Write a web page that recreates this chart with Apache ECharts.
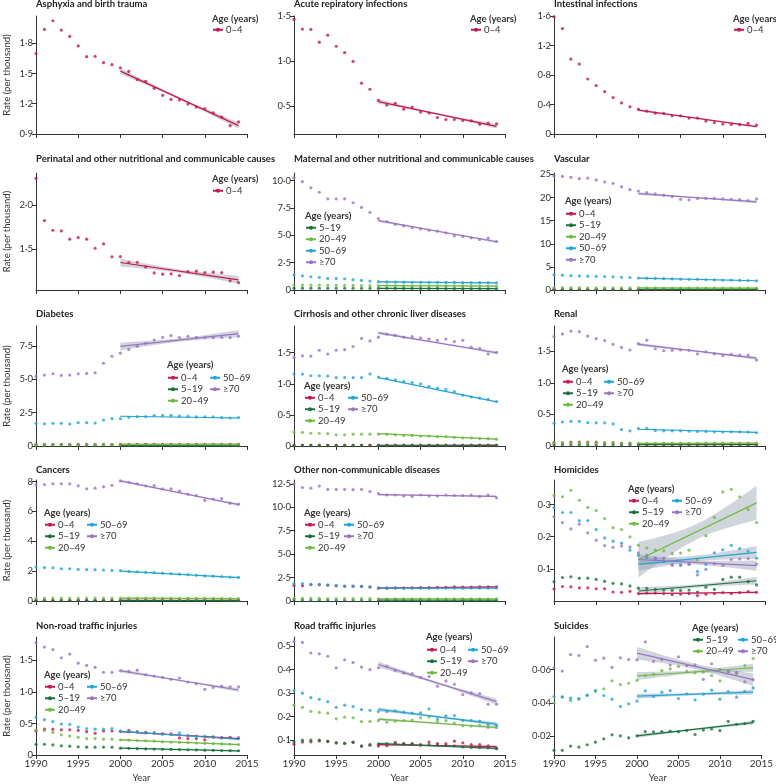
<!DOCTYPE html>
<html>
<head>
<meta charset="utf-8">
<script src="https://cdn.jsdelivr.net/npm/echarts@6.0.0/dist/echarts.min.js"></script>
<style>
html, body { margin: 0; padding: 0; background: #fff; }
#main { width: 776px; height: 784px; }
</style>
</head>
<body>
<div id="main"></div>
<script>
// ---- data ----
var years = [1990, 1991, 1992, 1993, 1994, 1995, 1996, 1997, 1998, 1999, 2000, 2001, 2002,
    2003, 2004, 2005, 2006, 2007, 2008, 2009, 2010, 2011, 2012, 2013, 2014];
var fitYears = [2000, 2014];
var ageGroups = ['0–4', '5–19', '20–49', '50–69', '≥70'];

// Asphyxia and birth trauma
var asphyxia04 = [1.697, 1.937, 2.023, 1.93, 1.867, 1.773, 1.667, 1.67, 1.607, 1.587, 1.557, 1.52, 1.44,
    1.423, 1.353, 1.283, 1.243, 1.237, 1.197, 1.167, 1.153, 1.11, 1.067, 0.983, 1.02];
var asphyxiaFit04 = [1.523, 0.983];
var asphyxiaBand04 = [0.03, 0.012, 0.03];

// Acute repiratory infections
var acute04 = [1.463, 1.355, 1.351, 1.209, 1.287, 1.164, 1.093, 0.996, 0.754, 0.687, 0.563, 0.511, 0.53,
    0.466, 0.489, 0.433, 0.422, 0.373, 0.351, 0.351, 0.34, 0.336, 0.299, 0.31, 0.302];
var acuteFit04 = [0.55, 0.275];
var acuteBand04 = [0.025, 0.01, 0.025];

// Intestinal infections
var intestinal04 = [1.59, 1.43, 1.016, 0.948, 0.746, 0.656, 0.575, 0.494, 0.422, 0.369, 0.337, 0.31, 0.283,
    0.279, 0.247, 0.247, 0.216, 0.216, 0.175, 0.153, 0.135, 0.13, 0.126, 0.144, 0.121];
var intestinalFit04 = [0.325, 0.1];
var intestinalBand04 = [0.015, 0.006, 0.015];

// Perinatal and other nutritional and communicable causes
var perinatal04 = [2.30, 1.823, 1.714, 1.707, 1.613, 1.632, 1.613, 1.511, 1.56, 1.414, 1.417, 1.35, 1.353,
    1.30, 1.233, 1.218, 1.222, 1.203, 1.248, 1.252, 1.237, 1.241, 1.237, 1.143, 1.124];
var perinatalFit04 = [1.35, 1.155];
var perinatalBand04 = [0.045, 0.02, 0.045];

// Maternal and other nutritional and communicable causes
var maternal519 = [0.17, 0.17, 0.17, 0.16, 0.16, 0.16, 0.16, 0.16, 0.15, 0.15, 0.15, 0.15, 0.15,
    0.14, 0.14, 0.14, 0.14, 0.14, 0.13, 0.13, 0.13, 0.13, 0.13, 0.12, 0.12];
var maternal2049 = [0.45, 0.45, 0.44, 0.44, 0.43, 0.43, 0.42, 0.42, 0.41, 0.41, 0.40, 0.40, 0.40,
    0.39, 0.39, 0.39, 0.38, 0.38, 0.38, 0.37, 0.37, 0.37, 0.36, 0.36, 0.36];
var maternal5069 = [1.39, 1.3, 1.21, 1.15, 1.06, 1.06, 1.03, 0.94, 0.88, 0.82, 0.76, 0.74, 0.73,
    0.72, 0.71, 0.71, 0.70, 0.70, 0.69, 0.69, 0.68, 0.68, 0.67, 0.67, 0.66];
var maternal70 = [10.27, 9.91, 9.34, 8.94, 8.34, 8.34, 8.34, 7.98, 7.55, 7.1, 6.53, 6.25, 6.01,
    5.86, 5.71, 5.59, 5.47, 5.38, 5.23, 4.95, 4.89, 4.77, 4.62, 4.74, 4.44];
var maternalFit519 = [0.15, 0.12];
var maternalFit2049 = [0.40, 0.36];
var maternalFit5069 = [0.75, 0.66];
var maternalFit70 = [6.34, 4.41];
var maternalBandSmall = [0.06, 0.03, 0.06];
var maternalBand70 = [0.12, 0.05, 0.12];

// Vascular
var vascular04 = [0.12, 0.12, 0.11, 0.11, 0.1, 0.1, 0.1, 0.09, 0.09, 0.09, 0.08, 0.08, 0.08,
    0.07, 0.07, 0.07, 0.07, 0.06, 0.06, 0.06, 0.06, 0.06, 0.05, 0.05, 0.05];
var vascular519 = [0.17, 0.17, 0.16, 0.16, 0.16, 0.15, 0.15, 0.15, 0.15, 0.14, 0.14, 0.14, 0.14,
    0.14, 0.13, 0.13, 0.13, 0.13, 0.13, 0.12, 0.12, 0.12, 0.12, 0.12, 0.12];
var vascular2049 = [0.52, 0.51, 0.5, 0.5, 0.49, 0.48, 0.47, 0.47, 0.46, 0.45, 0.45, 0.44, 0.44,
    0.43, 0.43, 0.42, 0.42, 0.41, 0.41, 0.41, 0.4, 0.4, 0.4, 0.39, 0.39];
var vascular5069 = [3.3, 3.2, 3.1, 3.05, 3.0, 2.95, 2.9, 2.85, 2.75, 2.7, 2.6, 2.55, 2.5,
    2.45, 2.4, 2.35, 2.3, 2.3, 2.25, 2.2, 2.15, 2.15, 2.1, 2.05, 2.0];
var vascular70 = [24.64, 24.57, 24.36, 24.07, 24.2, 23.8, 23.35, 23.07, 22.3, 21.7, 21.4, 21.06, 20.77,
    20.5, 20.2, 19.6, 19.5, 19.8, 19.8, 19.8, 19.7, 19.6, 19.56, 19.34, 19.7];
var vascularFit04 = [0.08, 0.05];
var vascularFit519 = [0.14, 0.12];
var vascularFit2049 = [0.45, 0.39];
var vascularFit5069 = [2.58, 2.0];
var vascularFit70 = [20.85, 19.05];
var vascularBandSmall = [0.1, 0.05, 0.1];
var vascularBand70 = [0.3, 0.12, 0.3];

// Diabetes
var diabetes04 = [0.13, 0.13, 0.13, 0.13, 0.13, 0.13, 0.13, 0.13, 0.13, 0.13, 0.12, 0.12, 0.12,
    0.12, 0.12, 0.12, 0.12, 0.12, 0.12, 0.12, 0.12, 0.12, 0.12, 0.12, 0.12];
var diabetes519 = [0.03, 0.03, 0.03, 0.03, 0.03, 0.03, 0.03, 0.03, 0.03, 0.03, 0.03, 0.03, 0.03,
    0.03, 0.03, 0.02, 0.02, 0.02, 0.02, 0.02, 0.02, 0.02, 0.02, 0.02, 0.02];
var diabetes2049 = [0.09, 0.09, 0.09, 0.09, 0.09, 0.09, 0.1, 0.1, 0.1, 0.1, 0.1, 0.1, 0.11,
    0.11, 0.11, 0.11, 0.11, 0.11, 0.11, 0.12, 0.12, 0.12, 0.12, 0.12, 0.12];
var diabetes5069 = [1.7, 1.67, 1.7, 1.7, 1.65, 1.75, 1.75, 1.72, 1.95, 2.05, 2.05, 2.15, 2.2,
    2.2, 2.28, 2.3, 2.3, 2.25, 2.23, 2.18, 2.18, 2.18, 2.13, 2.1, 2.13];
var diabetes70 = [5.22, 5.32, 5.42, 5.29, 5.32, 5.42, 5.44, 5.49, 6.2, 6.73, 6.96, 7.24, 7.49,
    7.7, 7.95, 8.15, 8.28, 8.13, 8.23, 8.13, 8.13, 8.13, 8.15, 8.13, 8.23];
var diabetesFit04 = [0.12, 0.12];
var diabetesFit519 = [0.03, 0.02];
var diabetesFit2049 = [0.1, 0.12];
var diabetesFit5069 = [2.23, 2.1];
var diabetesFit70 = [7.47, 8.43];
var diabetesBandSmall = [0.04, 0.02, 0.04];
var diabetesBand70 = [0.3, 0.13, 0.27];

// Cirrhosis and other chronic liver diseases
var cirrhosis04 = [0.015, 0.015, 0.015, 0.015, 0.015, 0.015, 0.014, 0.014, 0.014, 0.014, 0.013, 0.013, 0.013,
    0.013, 0.013, 0.013, 0.013, 0.013, 0.014, 0.014, 0.014, 0.014, 0.015, 0.015, 0.015];
var cirrhosis519 = [0.006, 0.006, 0.006, 0.006, 0.006, 0.006, 0.006, 0.006, 0.006, 0.006, 0.006, 0.006, 0.006,
    0.006, 0.005, 0.005, 0.005, 0.005, 0.005, 0.005, 0.005, 0.005, 0.005, 0.005, 0.005];
var cirrhosis2049 = [0.22, 0.22, 0.205, 0.205, 0.2, 0.18, 0.18, 0.19, 0.19, 0.19, 0.19, 0.19, 0.18,
    0.17, 0.17, 0.16, 0.16, 0.15, 0.15, 0.14, 0.13, 0.13, 0.12, 0.12, 0.11];
var cirrhosis5069 = [1.156, 1.156, 1.13, 1.13, 1.125, 1.10, 1.10, 1.10, 1.10, 1.16, 1.11, 1.09, 1.065,
    1.04, 1.02, 1.0, 0.96, 0.93, 0.91, 0.876, 0.817, 0.79, 0.77, 0.75, 0.715];
var cirrhosis70 = [1.425, 1.45, 1.446, 1.54, 1.48, 1.54, 1.55, 1.6, 1.73, 1.69, 1.75, 1.80, 1.78,
    1.75, 1.76, 1.74, 1.72, 1.70, 1.72, 1.68, 1.70, 1.59, 1.57, 1.48, 1.505];
var cirrhosisFit04 = [0.012, 0.015];
var cirrhosisFit519 = [0.006, 0.005];
var cirrhosisFit2049 = [0.2, 0.11];
var cirrhosisFit5069 = [1.1, 0.71];
var cirrhosisFit70 = [1.82, 1.5];
var cirrhosisBandSmall = [0.008, 0.004, 0.008];
var cirrhosisBand70 = [0.025, 0.012, 0.025];

// Renal
var renal04 = [0.05, 0.05, 0.06, 0.06, 0.06, 0.06, 0.05, 0.05, 0.04, 0.04, 0.03, 0.03, 0.03,
    0.03, 0.03, 0.03, 0.03, 0.03, 0.03, 0.03, 0.03, 0.03, 0.03, 0.03, 0.03];
var renal519 = [0.02, 0.02, 0.02, 0.02, 0.02, 0.02, 0.02, 0.02, 0.02, 0.02, 0.02, 0.02, 0.02,
    0.02, 0.02, 0.02, 0.02, 0.02, 0.02, 0.02, 0.02, 0.02, 0.02, 0.02, 0.02];
var renal2049 = [0.05, 0.05, 0.05, 0.05, 0.05, 0.05, 0.05, 0.05, 0.045, 0.045, 0.04, 0.04, 0.04,
    0.04, 0.04, 0.04, 0.04, 0.04, 0.045, 0.045, 0.045, 0.045, 0.045, 0.045, 0.045];
var renal5069 = [0.36, 0.38, 0.39, 0.39, 0.37, 0.365, 0.365, 0.35, 0.26, 0.24, 0.275, 0.28, 0.245,
    0.24, 0.24, 0.24, 0.235, 0.23, 0.23, 0.225, 0.22, 0.225, 0.225, 0.22, 0.21];
var renal70 = [1.733, 1.775, 1.82, 1.81, 1.74, 1.70, 1.67, 1.61, 1.56, 1.52, 1.62, 1.675, 1.54,
    1.51, 1.515, 1.52, 1.515, 1.46, 1.49, 1.46, 1.43, 1.45, 1.44, 1.44, 1.36];
var renalFit04 = [0.03, 0.025];
var renalFit519 = [0.02, 0.02];
var renalFit2049 = [0.04, 0.045];
var renalFit5069 = [0.265, 0.215];
var renalFit70 = [1.61, 1.39];
var renalBandSmall = [0.008, 0.004, 0.008];
var renalBand70 = [0.025, 0.012, 0.025];

// Cancers
var cancers04 = [0.05, 0.05, 0.05, 0.05, 0.05, 0.05, 0.05, 0.05, 0.05, 0.05, 0.05, 0.05, 0.05,
    0.05, 0.05, 0.04, 0.04, 0.04, 0.04, 0.04, 0.04, 0.04, 0.04, 0.04, 0.04];
var cancers519 = [0.04, 0.04, 0.04, 0.04, 0.04, 0.04, 0.04, 0.04, 0.04, 0.04, 0.035, 0.035, 0.035,
    0.035, 0.035, 0.03, 0.03, 0.03, 0.03, 0.03, 0.03, 0.03, 0.03, 0.03, 0.03];
var cancers2049 = [0.2, 0.2, 0.2, 0.2, 0.2, 0.2, 0.2, 0.2, 0.2, 0.2, 0.19, 0.19, 0.19,
    0.19, 0.19, 0.18, 0.18, 0.18, 0.18, 0.17, 0.17, 0.17, 0.17, 0.16, 0.16];
var cancers5069 = [2.27, 2.24, 2.22, 2.16, 2.16, 2.12, 2.1, 2.1, 2.07, 2.05, 2.03, 1.98, 1.95,
    1.92, 1.9, 1.86, 1.83, 1.8, 1.76, 1.72, 1.68, 1.66, 1.64, 1.6, 1.58];
var cancers70 = [7.78, 7.8, 7.85, 7.85, 7.85, 7.71, 7.51, 7.55, 7.64, 7.75, 8.04, 7.95, 7.84,
    7.71, 7.73, 7.51, 7.51, 7.35, 7.15, 7.06, 6.73, 6.82, 6.86, 6.55, 6.48];
var cancersFit04 = [0.05, 0.04];
var cancersFit519 = [0.035, 0.03];
var cancersFit2049 = [0.19, 0.16];
var cancersFit5069 = [2.0, 1.57];
var cancersFit70 = [8.04, 6.45];
var cancersBandSmall = [0.05, 0.02, 0.05];
var cancersBand70 = [0.07, 0.03, 0.07];

// Other non-communicable diseases
var ncd04 = [1.64, 1.62, 1.75, 1.72, 1.68, 1.62, 1.56, 1.58, 1.55, 1.5, 1.38, 1.37, 1.4,
    1.38, 1.4, 1.42, 1.44, 1.45, 1.46, 1.5, 1.47, 1.48, 1.5, 1.5, 1.5];
var ncd519 = [0.11, 0.11, 0.11, 0.11, 0.11, 0.1, 0.1, 0.1, 0.1, 0.1, 0.1, 0.1, 0.1,
    0.1, 0.1, 0.1, 0.09, 0.09, 0.09, 0.09, 0.09, 0.09, 0.09, 0.09, 0.09];
var ncd2049 = [0.28, 0.28, 0.27, 0.27, 0.26, 0.26, 0.26, 0.25, 0.25, 0.25, 0.24, 0.24, 0.24,
    0.24, 0.23, 0.23, 0.23, 0.23, 0.23, 0.22, 0.22, 0.22, 0.22, 0.22, 0.22];
var ncd5069 = [1.85, 1.85, 1.78, 1.78, 1.71, 1.64, 1.6, 1.56, 1.56, 1.49, 1.38, 1.38, 1.38,
    1.38, 1.38, 1.37, 1.37, 1.38, 1.38, 1.38, 1.37, 1.38, 1.38, 1.38, 1.38];
var ncd70 = [12.5, 12.1, 12.03, 12.25, 11.9, 11.9, 11.9, 11.87, 11.9, 11.67, 11.45, 11.3, 11.3,
    11.2, 11.15, 11.3, 11.2, 11.2, 11.3, 11.25, 11.25, 11.3, 11.15, 11.3, 11.0];
var ncdFit04 = [1.38, 1.5];
var ncdFit519 = [0.1, 0.09];
var ncdFit2049 = [0.24, 0.22];
var ncdFit5069 = [1.38, 1.37];
var ncdFit70 = [11.35, 11.15];
var ncdBandSmall = [0.05, 0.02, 0.05];
var ncdBand70 = [0.1, 0.05, 0.1];

// Homicides
var homicide04 = [0.037, 0.045, 0.044, 0.041, 0.041, 0.038, 0.038, 0.028, 0.027, 0.03, 0.023, 0.025, 0.025,
    0.023, 0.02, 0.021, 0.023, 0.017, 0.021, 0.023, 0.026, 0.023, 0.026, 0.029, 0.027];
var homicide519 = [0.06, 0.073, 0.075, 0.071, 0.071, 0.067, 0.061, 0.055, 0.053, 0.047, 0.04, 0.039, 0.036,
    0.034, 0.033, 0.033, 0.034, 0.028, 0.043, 0.036, 0.067, 0.074, 0.074, 0.06, 0.05];
var homicide2049 = [0.328, 0.324, 0.344, 0.313, 0.291, 0.281, 0.256, 0.228, 0.222, 0.199, 0.173, 0.165, 0.158,
    0.156, 0.147, 0.149, 0.158, 0.128, 0.203, 0.26, 0.339, 0.347, 0.324, 0.284, 0.244];
var homicide5069 = [0.29, 0.275, 0.275, 0.25, 0.25, 0.222, 0.196, 0.186, 0.18, 0.158, 0.142, 0.135, 0.131,
    0.123, 0.112, 0.111, 0.115, 0.092, 0.114, 0.15, 0.159, 0.173, 0.163, 0.155, 0.133];
var homicide70 = [0.262, 0.244, 0.224, 0.239, 0.212, 0.189, 0.172, 0.167, 0.171, 0.168, 0.15, 0.142, 0.133,
    0.133, 0.112, 0.112, 0.114, 0.081, 0.098, 0.116, 0.111, 0.129, 0.131, 0.132, 0.115];
var homicideFit04 = [0.023, 0.027];
var homicideFit519 = [0.031, 0.063];
var homicideFit2049 = [0.128, 0.305];
var homicideFit5069 = [0.114, 0.151];
var homicideFit70 = [0.129, 0.11];
var homicideBand04 = [0.003, 0.0015, 0.003];
var homicideBand519 = [0.012, 0.005, 0.012];
var homicideBand2049 = [0.055, 0.024, 0.053];
var homicideBand5069 = [0.02, 0.009, 0.02];
var homicideBand70 = [0.016, 0.007, 0.016];

// Non-road traffic injuries
var nonroad04 = [0.38, 0.41, 0.41, 0.4, 0.4, 0.39, 0.37, 0.345, 0.38, 0.38, 0.375, 0.39, 0.37,
    0.36, 0.35, 0.335, 0.33, 0.27, 0.26, 0.26, 0.24, 0.28, 0.27, 0.28, 0.27];
var nonroad519 = [0.17, 0.17, 0.16, 0.145, 0.14, 0.13, 0.124, 0.124, 0.125, 0.124, 0.108, 0.105, 0.1,
    0.097, 0.094, 0.09, 0.088, 0.085, 0.082, 0.08, 0.077, 0.074, 0.071, 0.069, 0.067];
var nonroad2049 = [0.4, 0.39, 0.36, 0.32, 0.3, 0.28, 0.26, 0.26, 0.25, 0.25, 0.24, 0.235, 0.23,
    0.225, 0.22, 0.21, 0.205, 0.2, 0.195, 0.19, 0.185, 0.18, 0.175, 0.17, 0.165];
var nonroad5069 = [0.6, 0.56, 0.53, 0.49, 0.485, 0.443, 0.42, 0.41, 0.41, 0.42, 0.38, 0.37, 0.36,
    0.35, 0.35, 0.33, 0.33, 0.35, 0.31, 0.3, 0.3, 0.29, 0.28, 0.27, 0.26];
var nonroad70 = [1.78, 1.71, 1.67, 1.54, 1.6, 1.455, 1.42, 1.39, 1.31, 1.31, 1.335, 1.325, 1.345,
    1.27, 1.25, 1.23, 1.2, 1.22, 1.155, 1.13, 1.04, 1.07, 1.09, 1.08, 1.08];
var nonroadFit04 = [0.37, 0.26];
var nonroadFit519 = [0.11, 0.065];
var nonroadFit2049 = [0.24, 0.165];
var nonroadFit5069 = [0.375, 0.25];
var nonroadFit70 = [1.335, 1.03];
var nonroadBandSmall = [0.012, 0.005, 0.012];
var nonroadBand70 = [0.03, 0.013, 0.03];

// Road traffic injuries
var road04 = [0.082, 0.091, 0.092, 0.096, 0.093, 0.088, 0.086, 0.09, 0.074, 0.078, 0.074, 0.075, 0.09,
    0.085, 0.085, 0.078, 0.091, 0.085, 0.084, 0.095, 0.088, 0.08, 0.08, 0.075, 0.064];
var road519 = [0.092, 0.099, 0.099, 0.099, 0.095, 0.088, 0.085, 0.091, 0.074, 0.08, 0.082, 0.084, 0.085,
    0.083, 0.082, 0.08, 0.08, 0.078, 0.076, 0.075, 0.07, 0.068, 0.068, 0.067, 0.063];
var road2049 = [0.248, 0.239, 0.222, 0.217, 0.214, 0.19, 0.197, 0.194, 0.178, 0.179, 0.182, 0.176, 0.18,
    0.182, 0.185, 0.194, 0.198, 0.178, 0.182, 0.172, 0.16, 0.159, 0.161, 0.153, 0.153];
var road5069 = [0.31, 0.299, 0.28, 0.273, 0.263, 0.239, 0.248, 0.242, 0.229, 0.226, 0.221, 0.221, 0.224,
    0.218, 0.214, 0.215, 0.232, 0.189, 0.203, 0.204, 0.183, 0.183, 0.18, 0.166, 0.163];
var road70 = [0.518, 0.515, 0.47, 0.466, 0.456, 0.407, 0.441, 0.429, 0.41, 0.399, 0.407, 0.413, 0.396,
    0.385, 0.382, 0.366, 0.37, 0.329, 0.351, 0.337, 0.293, 0.3, 0.297, 0.252, 0.252];
var roadFit04 = [0.08, 0.072];
var roadFit519 = [0.085, 0.064];
var roadFit2049 = [0.189, 0.153];
var roadFit5069 = [0.23, 0.167];
var roadFit70 = [0.421, 0.263];
var roadBandSmall = [0.006, 0.003, 0.006];
var roadBand5069 = [0.009, 0.004, 0.009];
var roadBand70 = [0.013, 0.005, 0.013];

// Suicides
var suicide519 = [0.0112, 0.0112, 0.0138, 0.0132, 0.0146, 0.0162, 0.0182, 0.0206, 0.02, 0.0188, 0.02, 0.0226, 0.0224,
    0.0226, 0.0228, 0.0224, 0.0232, 0.0208, 0.0236, 0.0242, 0.0232, 0.0288, 0.027, 0.0274, 0.0288];
var suicide2049 = [0.04, 0.0434, 0.0413, 0.0422, 0.0445, 0.047, 0.0485, 0.0533, 0.051, 0.0518, 0.0535, 0.0565, 0.0572,
    0.0595, 0.0605, 0.062, 0.059, 0.0582, 0.0585, 0.0565, 0.0533, 0.0585, 0.0575, 0.0625, 0.0668];
var suicide5069 = [0.0438, 0.0436, 0.0428, 0.0426, 0.0446, 0.0474, 0.0444, 0.0422, 0.0378, 0.0394, 0.041, 0.0472, 0.0438,
    0.0464, 0.0474, 0.0426, 0.0454, 0.0418, 0.0452, 0.0476, 0.0422, 0.0468, 0.0434, 0.0468, 0.049];
var suicide70 = [0.0612, 0.0592, 0.0692, 0.0686, 0.074, 0.0658, 0.067, 0.0614, 0.0672, 0.0662, 0.066, 0.0768, 0.065,
    0.0662, 0.0628, 0.0678, 0.0624, 0.063, 0.0542, 0.0636, 0.06, 0.0592, 0.0584, 0.0526, 0.054];
var suicideFit519 = [0.02, 0.028];
var suicideFit2049 = [0.0562, 0.0612];
var suicideFit5069 = [0.044, 0.0464];
var suicideFit70 = [0.07, 0.054];
var suicideBand519 = [0.0012, 0.0005, 0.0012];
var suicideBand2049 = [0.0024, 0.001, 0.0024];
var suicideBand5069 = [0.0016, 0.0007, 0.0016];
var suicideBand70 = [0.0038, 0.0016, 0.0038];

// ---- layout ----
var FONT = 'Lato, "Noto Sans", sans-serif';
var ageColors = ['#c8174b', '#18733a', '#6dbb3c', '#1ea6d8', '#9c72c7'];
var bandColor = 'rgba(150,162,178,0.45)';
var colLeft = [36, 294, 554];
var rowTop = [16, 173, 326, 480, 637];
var rowH = [118, 117, 120, 121, 120];
var titleY = [5, 160, 315, 471, 627];
var plotW = 211;

var panels = [
    { title: 'Asphyxia and birth trauma', row: 0, col: 0, yMin: 0.9, yMax: 2.07, ticks: [0.9, 1.2, 1.5, 1.8], dec: 1,
      groups: [[0, asphyxia04, asphyxiaFit04, asphyxiaBand04]],
      legend: { x: 212, y: 20, row: 30, cols: [[212, [0]]] } },
    { title: 'Acute repiratory infections', row: 0, col: 1, yMin: 0.19, yMax: 1.5, ticks: [0.5, 1.0, 1.5], dec: 1,
      groups: [[0, acute04, acuteFit04, acuteBand04]],
      legend: { x: 470, y: 20, row: 30, cols: [[470, [0]]] } },
    { title: 'Intestinal infections', row: 0, col: 2, yMin: 0, yMax: 1.6, ticks: [0, 0.4, 0.8, 1.2, 1.6], dec: 1,
      groups: [[0, intestinal04, intestinalFit04, intestinalBand04]],
      legend: { x: 733, y: 20, row: 30, cols: [[733, [0]]] } },
    { title: 'Perinatal and other nutritional and communicable causes', row: 1, col: 0, yMin: 1.04, yMax: 2.36, ticks: [1.5, 2.0], dec: 1,
      groups: [[0, perinatal04, perinatalFit04, perinatalBand04]],
      legend: { x: 212, y: 180, row: 191, cols: [[212, [0]]] } },
    { title: 'Maternal and other nutritional and communicable causes', row: 1, col: 1, yMin: 0, yMax: 10.7, ticks: [0, 2.5, 5, 7.5, 10], dec: 1,
      groups: [[1, maternal519, maternalFit519, maternalBandSmall], [2, maternal2049, maternalFit2049, maternalBandSmall],
               [3, maternal5069, maternalFit5069, maternalBandSmall], [4, maternal70, maternalFit70, maternalBand70]],
      legend: { x: 305, y: 217, row: 228, cols: [[305, [1, 2, 3, 4]]] } },
    { title: 'Vascular', row: 1, col: 2, yMin: 0, yMax: 25.3, ticks: [0, 5, 10, 15, 20, 25], dec: 0,
      groups: [[0, vascular04, vascularFit04, vascularBandSmall], [1, vascular519, vascularFit519, vascularBandSmall],
               [2, vascular2049, vascularFit2049, vascularBandSmall], [3, vascular5069, vascularFit5069, vascularBandSmall],
               [4, vascular70, vascularFit70, vascularBand70]],
      legend: { x: 565, y: 202, row: 214, cols: [[565, [0, 1, 2, 3, 4]]] } },
    { title: 'Diabetes', row: 2, col: 0, yMin: 0, yMax: 9, ticks: [0, 2.5, 5, 7.5], dec: 1,
      groups: [[0, diabetes04, diabetesFit04, diabetesBandSmall], [1, diabetes519, diabetesFit519, diabetesBandSmall],
               [2, diabetes2049, diabetesFit2049, diabetesBandSmall], [3, diabetes5069, diabetesFit5069, diabetesBandSmall],
               [4, diabetes70, diabetesFit70, diabetesBand70]],
      legend: { x: 167, y: 366, row: 378, cols: [[167, [0, 1, 2]], [209, [3, 4]]] } },
    { title: 'Cirrhosis and other chronic liver diseases', row: 2, col: 1, yMin: 0, yMax: 1.93, ticks: [0, 0.5, 1.0, 1.5], dec: 1,
      groups: [[0, cirrhosis04, cirrhosisFit04, cirrhosisBandSmall], [1, cirrhosis519, cirrhosisFit519, cirrhosisBandSmall],
               [2, cirrhosis2049, cirrhosisFit2049, cirrhosisBandSmall], [3, cirrhosis5069, cirrhosisFit5069, cirrhosisBandSmall],
               [4, cirrhosis70, cirrhosisFit70, cirrhosisBand70]],
      legend: { x: 304, y: 387, row: 398, cols: [[304, [0, 1, 2]], [347, [3, 4]]] } },
    { title: 'Renal', row: 2, col: 2, yMin: 0, yMax: 1.9, ticks: [0, 0.5, 1.0, 1.5], dec: 1,
      groups: [[0, renal04, renalFit04, renalBandSmall], [1, renal519, renalFit519, renalBandSmall],
               [2, renal2049, renalFit2049, renalBandSmall], [3, renal5069, renalFit5069, renalBandSmall],
               [4, renal70, renalFit70, renalBand70]],
      legend: { x: 562, y: 370, row: 382, cols: [[562, [0, 1, 2]], [603, [3, 4]]] } },
    { title: 'Cancers', row: 3, col: 0, yMin: 0, yMax: 8.1, ticks: [0, 2, 4, 6, 8], dec: 0,
      groups: [[0, cancers04, cancersFit04, cancersBandSmall], [1, cancers519, cancersFit519, cancersBandSmall],
               [2, cancers2049, cancersFit2049, cancersBandSmall], [3, cancers5069, cancersFit5069, cancersBandSmall],
               [4, cancers70, cancersFit70, cancersBand70]],
      legend: { x: 44, y: 514, row: 525, cols: [[44, [0, 1, 2]], [86, [3, 4]]] } },
    { title: 'Other non-communicable diseases', row: 3, col: 1, yMin: 0, yMax: 12.9, ticks: [0, 2.5, 5, 7.5, 10, 12.5], dec: 1,
      groups: [[0, ncd04, ncdFit04, ncdBandSmall], [1, ncd519, ncdFit519, ncdBandSmall],
               [2, ncd2049, ncdFit2049, ncdBandSmall], [3, ncd5069, ncdFit5069, ncdBandSmall],
               [4, ncd70, ncdFit70, ncdBand70]],
      legend: { x: 304, y: 514, row: 525, cols: [[304, [0, 1, 2]], [343, [3, 4]]] } },
    { title: 'Homicides', row: 3, col: 2, yMin: 0, yMax: 0.376, ticks: [0.1, 0.2, 0.3], dec: 1,
      groups: [[0, homicide04, homicideFit04, homicideBand04], [1, homicide519, homicideFit519, homicideBand519],
               [2, homicide2049, homicideFit2049, homicideBand2049], [3, homicide5069, homicideFit5069, homicideBand5069],
               [4, homicide70, homicideFit70, homicideBand70]],
      legend: { x: 628, y: 490, row: 501, cols: [[628, [0, 1, 2]], [671, [3, 4]]] } },
    { title: 'Non-road traffic injuries', row: 4, col: 0, yMin: 0, yMax: 1.87, ticks: [0, 0.5, 1.0, 1.5], dec: 1,
      groups: [[0, nonroad04, nonroadFit04, nonroadBandSmall], [1, nonroad519, nonroadFit519, nonroadBandSmall],
               [2, nonroad2049, nonroadFit2049, nonroadBandSmall], [3, nonroad5069, nonroadFit5069, nonroadBandSmall],
               [4, nonroad70, nonroadFit70, nonroadBand70]],
      legend: { x: 44, y: 676, row: 687, cols: [[44, [0, 1, 2]], [86, [3, 4]]] } },
    { title: 'Road traffic injuries', row: 4, col: 1, yMin: 0.036, yMax: 0.538, ticks: [0.1, 0.2, 0.3, 0.4, 0.5], dec: 1,
      groups: [[0, road04, roadFit04, roadBandSmall], [1, road519, roadFit519, roadBandSmall],
               [2, road2049, roadFit2049, roadBandSmall], [3, road5069, roadFit5069, roadBand5069],
               [4, road70, roadFit70, roadBand70]],
      legend: { x: 426, y: 638, row: 650, cols: [[426, [0, 1, 2]], [467, [3, 4]]] } },
    { title: 'Suicides', row: 4, col: 2, yMin: 0.0084, yMax: 0.0798, ticks: [0.02, 0.04, 0.06], dec: 2,
      groups: [[1, suicide519, suicideFit519, suicideBand519], [2, suicide2049, suicideFit2049, suicideBand2049],
               [3, suicide5069, suicideFit5069, suicideBand5069], [4, suicide70, suicideFit70, suicideBand70]],
      legend: { x: 692, y: 629, row: 640, cols: [[692, [1, 2]], [737, [3, 4]]] } }
];

function tickFormatter(dec) {
    return function (v) {
        if (Math.abs(v) < 1e-9) return '0';
        return v.toFixed(dec).replace('.', '·');
    };
}

// confidence band drawn as a polygon through the axes of its grid
function bandSeries(i, fit, band) {
    return {
        type: 'custom', xAxisIndex: i, yAxisIndex: i, silent: true, z: 1,
        data: [[fitYears[0], fit[0]]],
        renderItem: function (params, api) {
            var up = [], lo = [];
            for (var t = fitYears[0]; t <= fitYears[1] + 1e-6; t += 0.5) {
                var f = (t - fitYears[0]) / (fitYears[1] - fitYears[0]);
                var c = fit[0] + (fit[1] - fit[0]) * f;
                var d = (f - 0.5) * 2;
                var wEnd = d < 0 ? band[0] : band[2];
                var w = Math.sqrt(band[1] * band[1] + (wEnd * wEnd - band[1] * band[1]) * d * d);
                up.push(api.coord([t, c + w]));
                lo.unshift(api.coord([t, c - w]));
            }
            return { type: 'polygon', shape: { points: up.concat(lo) }, style: { fill: bandColor } };
        }
    };
}

var grids = [], xAxes = [], yAxes = [], series = [], titles = [], legends = [];

panels.forEach(function (p, i) {
    grids.push({ left: colLeft[p.col], top: rowTop[p.row], width: plotW, height: rowH[p.row] });
    var bottom = p.row === 4;
    xAxes.push({
        gridIndex: i, type: 'value', min: 1990, max: 2015, interval: 5,
        axisLine: { onZero: false, lineStyle: { color: '#333', width: 1 } },
        axisTick: { length: 4, lineStyle: { color: '#333' } },
        axisLabel: { show: bottom, formatter: function (v) { return String(v); },
            fontFamily: FONT, fontSize: 10, color: '#333', margin: 4 },
        splitLine: { show: false },
        name: bottom ? 'Year' : '', nameLocation: 'middle', nameGap: 18,
        nameTextStyle: { fontFamily: FONT, fontSize: 9.5, color: '#333' }
    });
    yAxes.push({
        gridIndex: i, type: 'value', min: p.yMin, max: p.yMax,
        axisLine: { show: true, onZero: false, lineStyle: { color: '#333', width: 1 } },
        axisTick: { show: true, length: 4, customValues: p.ticks, lineStyle: { color: '#333' } },
        axisLabel: { customValues: p.ticks, formatter: tickFormatter(p.dec), fontFamily: FONT, fontSize: 9.5, color: '#333', margin: 3 },
        splitLine: { show: false },
        name: p.col === 0 ? 'Rate (per thousand)' : '', nameLocation: 'middle', nameGap: 24,
        nameTextStyle: { fontFamily: FONT, fontSize: 9.5, color: '#333' }
    });
    titles.push({ text: p.title, left: colLeft[p.col], top: titleY[p.row] - 6, padding: 0,
        textStyle: { fontFamily: FONT, fontSize: 9.5, fontWeight: 'bold', color: '#222' } });
    titles.push({ text: 'Age (years)', left: p.legend.x, top: p.legend.y - 6, padding: 0,
        textStyle: { fontFamily: FONT, fontSize: 9.5, fontWeight: 'bold', color: '#333' } });
    p.legend.cols.forEach(function (c) {
        legends.push({
            left: c[0], top: p.legend.row - 6, orient: 'vertical', padding: 0, itemGap: 0,
            itemWidth: 10, itemHeight: 5, selectedMode: false,
            data: c[1].map(function (a) { return ageGroups[a]; }),
            textStyle: { fontFamily: FONT, fontSize: 9.5, color: '#333', lineHeight: 11.5, padding: [0, 0, 0, -2] }
        });
    });
    p.groups.forEach(function (g) {
        var color = ageColors[g[0]];
        series.push(bandSeries(i, g[2], g[3]));
        series.push({
            type: 'scatter', name: 'pts', xAxisIndex: i, yAxisIndex: i, silent: true, z: 2,
            symbolSize: 3.2, itemStyle: { color: color },
            data: years.map(function (y, k) { return [y, g[1][k]]; })
        });
        series.push({
            type: 'line', name: ageGroups[g[0]], xAxisIndex: i, yAxisIndex: i, silent: true, z: 3,
            symbol: 'circle', symbolSize: 4, showSymbol: false,
            itemStyle: { color: color }, lineStyle: { color: color, width: 1.2 },
            data: fitYears.map(function (y, k) { return [y, g[2][k]]; })
        });
    });
});

var chart = echarts.init(document.getElementById('main'));
chart.setOption({
    backgroundColor: '#fff',
    animation: false,
    title: titles,
    legend: legends,
    grid: grids,
    xAxis: xAxes,
    yAxis: yAxes,
    series: series
});
</script>
</body>
</html>
